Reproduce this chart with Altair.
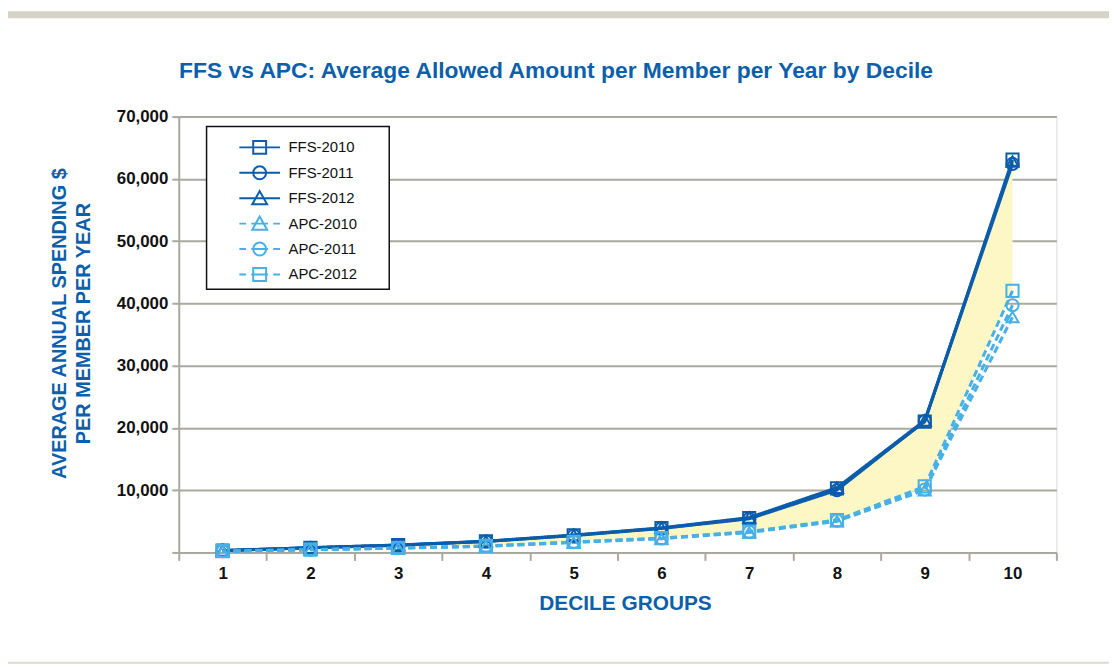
import altair as alt
import pandas as pd

# ---------------- data ----------------
deciles = ["1", "2", "3", "4", "5", "6", "7", "8", "9", "10"]
series_names = ["FFS-2010", "FFS-2011", "FFS-2012", "APC-2010", "APC-2011", "APC-2012"]

ffs_2010 = [300, 760, 1180, 1780, 2750, 3900, 5500, 10300, 21000, 63100]
ffs_2011 = [290, 740, 1150, 1750, 2700, 3850, 5400, 10000, 21100, 62400]
ffs_2012 = [310, 770, 1200, 1800, 2800, 3950, 5600, 10400, 21200, 62800]
apc_2010 = [180, 430, 680, 980, 1600, 2200, 3200, 5000, 10000, 37800]
apc_2011 = [190, 440, 700, 1000, 1650, 2250, 3300, 5100, 10100, 39700]
apc_2012 = [200, 460, 720, 1050, 1700, 2300, 3350, 5200, 10600, 42000]

y_ticks = [0, 10000, 20000, 30000, 40000, 50000, 60000, 70000]

chart_title = "FFS vs APC: Average Allowed Amount per Member per Year by Decile"

all_series = [ffs_2010, ffs_2011, ffs_2012, apc_2010, apc_2011, apc_2012]
rows = []
for name, vals in zip(series_names, all_series):
    for d, v in zip(deciles, vals):
        rows.append({"decile": d, "series": name, "value": v})
df = pd.DataFrame(rows)
band_df = pd.DataFrame({"decile": deciles, "upper": ffs_2010, "lower": apc_2012})

# ---------------- styles ----------------
FONT = "Liberation Sans"
DARK = "#0b5dac"
LIGHT = "#47b0e6"
TITLE_BLUE = "#0c5fab"
GRID = "#aaa99f"
FILL = "#fcf7c4"

colors = [DARK, DARK, DARK, LIGHT, LIGHT, LIGHT]
dashes = [[1, 0], [1, 0], [1, 0], [7, 4], [7, 4], [7, 4]]
shapes = ["square", "circle", "triangle-up", "triangle-up", "circle", "square"]

# legend glyphs: line (solid or dashed) through the marker shape
L = 3.15
full = f"M-{L},0H{L}"
dashed = f"M-{L},0H-2.1M-1.3,0H1.3M2.1,0H{L}"
sq = "M-1,-1H1V1H-1Z"
ci = "M1,0A1,1 0 1,1 -1,0A1,1 0 1,1 1,0Z"
tr = "M0,-1.1L1.15,0.95H-1.15Z"
glyph_style = {
    "FFS-2010": full + sq,
    "FFS-2011": full + ci,
    "FFS-2012": full + tr,
    "APC-2010": dashed + tr,
    "APC-2011": dashed + ci,
    "APC-2012": dashed + sq,
}
legend_df = pd.DataFrame({"series": series_names})
legend_df["glyph"] = legend_df["series"].map(glyph_style)

x_enc = alt.X(
    "decile:O",
    sort=deciles,
    bandPosition=0.5,
    scale=alt.Scale(type="band", paddingInner=0, paddingOuter=0),
    axis=alt.Axis(
        title="DECILE GROUPS",
        titleFont=FONT, titleFontSize=21, titleFontWeight="bold", titleColor=TITLE_BLUE,
        titleX=449.5, titleY=40, titleBaseline="top", titleAlign="center",
        labelFont=FONT, labelFontSize=17, labelFontWeight="bold", labelColor="#111111",
        labelAngle=0, labelPadding=5, labelBaseline="top",
        tickBand="extent", tickSize=8, tickColor=GRID, tickWidth=2,
        domainColor=GRID, domainWidth=2, grid=False,
    ),
)

y_scale = alt.Scale(domain=[0, 70000], nice=False)
y_axis = alt.Axis(
    values=y_ticks,
    labelExpr="datum.value == 0 ? '' : format(datum.value, ',')",
    title=["AVERAGE ANNUAL SPENDING $", "PER MEMBER PER YEAR"],
    titleFont=FONT, titleFontSize=20, titleFontWeight="bold", titleColor=TITLE_BLUE,
    titleX=-130, titleY=208, titleBaseline="top", titleAlign="center", titleAngle=-90,
    titleLineHeight=24,
    labelFont=FONT, labelFontSize=17, labelFontWeight="bold", labelColor="#111111",
    labelPadding=4, tickSize=7, tickColor=GRID, tickWidth=2,
    domainColor=GRID, domainWidth=2,
    grid=True, gridColor=GRID, gridWidth=2,
)

color_scale = alt.Scale(domain=series_names, range=colors)

area = alt.Chart(band_df).mark_area(color=FILL, opacity=1).encode(
    x=x_enc,
    y=alt.Y("upper:Q", scale=y_scale, axis=y_axis),
    y2="lower:Q",
)

lines = alt.Chart(df).mark_line(strokeWidth=3).encode(
    x=x_enc,
    y=alt.Y("value:Q", scale=y_scale, axis=y_axis),
    color=alt.Color("series:N", scale=color_scale, legend=None),
    strokeDash=alt.StrokeDash("series:N", scale=alt.Scale(domain=series_names, range=dashes), legend=None),
    detail="series:N",
)

points = alt.Chart(df).mark_point(filled=False, size=150, strokeWidth=2, opacity=1).encode(
    x=x_enc,
    y=alt.Y("value:Q", scale=y_scale, axis=y_axis),
    color=alt.Color("series:N", scale=color_scale, legend=None),
    shape=alt.Shape("series:N", scale=alt.Scale(domain=series_names, range=shapes), legend=None),
)

one = alt.Data(values=[{"a": 1}])
top_band = alt.Chart(one).mark_rect(fill="#d6d4c7").encode(
    x=alt.value(-172), x2=alt.value(937), y=alt.value(-106), y2=alt.value(-99)
)
bottom_line = alt.Chart(one).mark_rect(fill="#dcdacf").encode(
    x=alt.value(-172), x2=alt.value(937), y=alt.value(549), y2=alt.value(551)
)
title_mark = alt.Chart(alt.Data(values=[{"t": chart_title}])).mark_text(
    font=FONT, fontSize=23, fontWeight="bold", color=TITLE_BLUE,
    align="center", baseline="alphabetic",
).encode(x=alt.value(380), y=alt.value(-39), text="t:N")

main = alt.layer(top_band, bottom_line, title_mark, area, lines, points)

# ---------------- legend ----------------
leg_y = alt.Y("series:N", sort=series_names, axis=None,
              scale=alt.Scale(type="point", range=[31, 159], padding=0))
box = alt.Chart(one).mark_rect(fill="white", stroke="#111111", strokeWidth=1.5).encode(
    x=alt.value(28), x2=alt.value(212), y=alt.value(10), y2=alt.value(174)
)
leg_sym = alt.Chart(legend_df).mark_point(filled=False, size=169, strokeWidth=2, opacity=1).encode(
    x=alt.value(81.5),
    y=leg_y,
    color=alt.Color("series:N", scale=color_scale, legend=None),
    shape=alt.Shape("glyph:N", scale=None),
)
leg_txt = alt.Chart(legend_df).mark_text(
    align="left", baseline="middle", font=FONT, fontSize=15, color="#111111"
).encode(
    x=alt.value(110.5),
    y=leg_y,
    text="series:N",
)
legend = alt.layer(box, leg_sym, leg_txt)

chart = alt.layer(main, legend).resolve_scale(
    y="independent", shape="independent"
).properties(
    width=884,
    height=439,
    autosize=alt.AutoSizeParams(type="none"),
    padding={"left": 172, "top": 107, "right": 53, "bottom": 113},
).configure_view(stroke=None).configure(background="white")

chart.save("out.html", embed_options={"renderer": "svg", "actions": False})
